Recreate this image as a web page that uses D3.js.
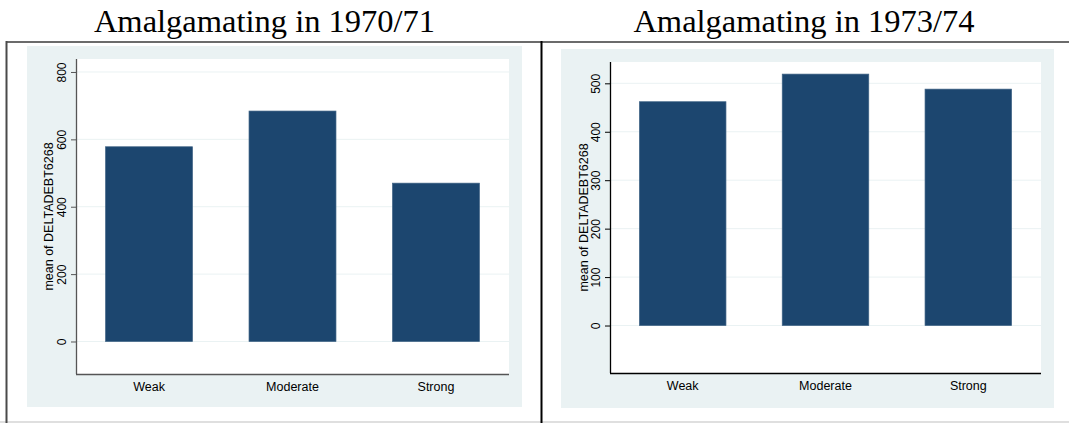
<!DOCTYPE html>
<html>
<head>
<meta charset="utf-8">
<script src="https://cdn.jsdelivr.net/npm/d3@7"></script>
<style>
  body { margin: 0; background: #fff; }
  svg { display: block; }
  .title { font-family: "Liberation Serif", "DejaVu Serif", serif; font-size: 32.5px; fill: #000; }
  .tick text { font-family: "Liberation Sans", Arial, sans-serif; }
</style>
</head>
<body>
<svg id="chart" width="1069" height="423"></svg>
<script>
const categories = ["Weak", "Moderate", "Strong"];
const means7071 = [578, 684, 470];
const means7374 = [462, 519, 488];
const ticks7071 = [0, 200, 400, 600, 800];
const ticks7374 = [0, 100, 200, 300, 400, 500];

const svg = d3.select('#chart');

// outer frame of the combined graph
svg.append('line').attr('x1', 6).attr('x2', 1069).attr('y1', 42).attr('y2', 42)
  .attr('stroke', '#6b6b6b').attr('stroke-width', 2);
svg.append('line').attr('x1', 0).attr('x2', 1069).attr('y1', 422).attr('y2', 422)
  .attr('stroke', '#d4d4d4').attr('stroke-width', 1.5);
svg.append('line').attr('x1', 6.5).attr('x2', 6.5).attr('y1', 41).attr('y2', 423)
  .attr('stroke', '#4a4a4a').attr('stroke-width', 2);
svg.append('line').attr('x1', 541.5).attr('x2', 541.5).attr('y1', 41).attr('y2', 423)
  .attr('stroke', '#000').attr('stroke-width', 2);

const drawPanel = function (p) {
  // title
  svg.append('text')
    .attr('class', 'title')
    .attr('x', p.titleX)
    .attr('y', 32)
    .attr('text-anchor', 'middle')
    .text(p.title);

  // light blue graph region
  svg.append('rect')
    .attr('x', p.region[0]).attr('y', p.region[1])
    .attr('width', p.region[2] - p.region[0])
    .attr('height', p.region[3] - p.region[1])
    .attr('fill', '#eaf2f3');

  const left = p.plot[0], top = p.plot[1], right = p.plot[2], bottom = p.plot[3];

  svg.append('rect')
    .attr('x', left).attr('y', top)
    .attr('width', right - left).attr('height', bottom - top)
    .attr('fill', '#fff');

  const xScale = d3.scaleBand()
    .domain(categories)
    .range([left, right])
    .paddingInner(0.394)
    .paddingOuter(0.206);

  const yScale = d3.scaleLinear()
    .domain(p.yDomain)
    .range([bottom, top]);

  // grid lines
  svg.append('g')
    .selectAll('line')
    .data(p.ticks)
    .join('line')
      .attr('x1', left).attr('x2', right)
      .attr('y1', d => yScale(d)).attr('y2', d => yScale(d))
      .attr('stroke', '#eaf2f3').attr('stroke-width', 1);

  // bars
  svg.append('g')
    .selectAll('rect')
    .data(p.values)
    .join('rect')
      .attr('x', (d, i) => xScale(categories[i]))
      .attr('y', d => yScale(d))
      .attr('width', xScale.bandwidth())
      .attr('height', d => yScale(0) - yScale(d))
      .attr('fill', '#1c466f')
      .attr('stroke', '#3f6385')
      .attr('stroke-width', 0.7);

  // y axis
  const yAxis = d3.axisLeft(yScale)
    .tickValues(p.ticks)
    .tickSize(5)
    .tickPadding(0)
    .tickFormat(d3.format('d'));

  const yAxisG = svg.append('g')
    .attr('transform', `translate(${left},0)`)
    .call(yAxis);
  yAxisG.select('.domain')
    .attr('d', `M0.5,${top}V${bottom}`)
    .attr('stroke', p.axisColor).attr('stroke-width', 1.3);
  yAxisG.selectAll('.tick line').attr('stroke', p.axisColor).attr('x1', 0.5);
  yAxisG.selectAll('.tick text')
    .attr('transform', 'rotate(-90)')
    .attr('x', 0)
    .attr('y', -10.5)
    .attr('dy', 0)
    .attr('text-anchor', 'middle')
    .attr('font-size', 12)
    .attr('fill', '#000');

  yAxisG.append('text')
    .attr('transform', 'rotate(-90)')
    .attr('x', -(top + bottom) / 2)
    .attr('y', p.labelX - left)
    .attr('text-anchor', 'middle')
    .attr('font-family', '"Liberation Sans", Arial, sans-serif')
    .attr('font-size', 12.5)
    .attr('fill', '#000')
    .text('mean of DELTADEBT6268');

  // x axis
  const xAxis = d3.axisBottom(xScale).tickSize(0).tickPadding(0);
  const xAxisG = svg.append('g')
    .attr('transform', `translate(0,${bottom})`)
    .call(xAxis);
  xAxisG.select('.domain')
    .attr('d', `M${left},0.5H${right}`)
    .attr('stroke', p.axisColor).attr('stroke-width', 1.3);
  xAxisG.selectAll('.tick text')
    .attr('y', 17)
    .attr('dy', 0)
    .attr('font-size', 12.5)
    .attr('fill', '#000');
};

drawPanel({
  title: 'Amalgamating in 1970/71',
  titleX: 264.5,
  region: [27, 46, 522, 407],
  plot: [76, 59, 509, 374],
  yDomain: [-96.5, 838.5],
  ticks: ticks7071,
  values: means7071,
  axisColor: '#555',
  labelX: 52.5
});

drawPanel({
  title: 'Amalgamating in 1973/74',
  titleX: 804,
  region: [561, 49, 1054, 408],
  plot: [610, 62, 1041, 373],
  yDomain: [-98, 544],
  ticks: ticks7374,
  values: means7374,
  axisColor: '#000',
  labelX: 588
});
</script>
</body>
</html>
